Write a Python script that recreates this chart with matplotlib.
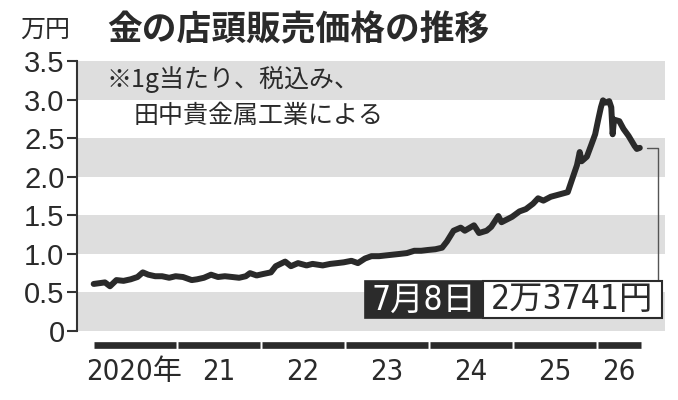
import numpy as np
import pandas as pd
import matplotlib
matplotlib.use("Agg")
import matplotlib.pyplot as plt
from matplotlib.patches import Rectangle
from matplotlib.transforms import blended_transform_factory

plt.rcParams['font.family'] = ['Noto Sans CJK JP', 'DejaVu Sans']
plt.rcParams['axes.unicode_minus'] = False

# データ（万円, 1gあたり税込み）
dates = [
    "2020-01-06", "2020-01-31", "2020-02-24", "2020-03-17", "2020-04-14", "2020-05-15",
    "2020-06-15", "2020-07-15", "2020-08-07", "2020-08-31", "2020-09-30", "2020-10-30",
    "2020-11-30", "2020-12-28", "2021-01-29", "2021-03-08", "2021-03-31", "2021-04-30",
    "2021-05-31", "2021-06-30", "2021-07-30", "2021-08-31", "2021-09-30", "2021-10-29",
    "2021-11-16", "2021-12-15", "2022-01-14", "2022-02-15", "2022-03-08", "2022-04-18",
    "2022-05-13", "2022-06-13", "2022-07-20", "2022-08-15", "2022-09-28", "2022-10-31",
    "2022-11-30", "2022-12-28", "2023-01-31", "2023-02-28", "2023-03-31", "2023-04-28",
    "2023-05-31", "2023-06-30", "2023-07-31", "2023-08-31", "2023-09-29", "2023-10-31",
    "2023-11-30", "2023-12-28", "2024-01-31", "2024-02-29", "2024-03-21", "2024-04-19",
    "2024-05-20", "2024-06-07", "2024-07-17", "2024-08-08", "2024-09-10", "2024-09-30",
    "2024-10-31", "2024-11-14", "2024-12-30", "2025-01-31", "2025-02-28", "2025-03-31",
    "2025-04-22", "2025-05-15", "2025-06-16", "2025-07-23", "2025-08-29", "2025-09-15",
    "2025-10-08", "2025-10-20", "2025-10-28", "2025-11-20", "2025-12-10", "2025-12-26",
    "2026-01-09", "2026-01-20", "2026-01-29", "2026-02-10", "2026-02-25", "2026-03-06",
    "2026-03-12", "2026-03-18", "2026-04-10", "2026-04-28", "2026-05-20", "2026-06-15",
    "2026-06-25", "2026-07-08",
]
prices = [
    0.61, 0.62, 0.63, 0.58, 0.66, 0.65,
    0.67, 0.70, 0.76, 0.73, 0.71, 0.71,
    0.69, 0.71, 0.70, 0.66, 0.67, 0.69,
    0.73, 0.70, 0.71, 0.70, 0.69, 0.71,
    0.75, 0.72, 0.74, 0.76, 0.84, 0.90,
    0.84, 0.88, 0.85, 0.87, 0.85, 0.87,
    0.88, 0.89, 0.91, 0.88, 0.94, 0.97,
    0.97, 0.98, 0.99, 1.00, 1.01, 1.04,
    1.04, 1.05, 1.06, 1.08, 1.16, 1.30,
    1.34, 1.30, 1.37, 1.27, 1.30, 1.35,
    1.49, 1.41, 1.48, 1.55, 1.58, 1.65,
    1.72, 1.69, 1.74, 1.77, 1.80, 1.95,
    2.15, 2.32, 2.20, 2.26, 2.42, 2.55,
    2.75, 2.90, 2.99, 2.96, 2.98, 2.90,
    2.55, 2.74, 2.72, 2.62, 2.53, 2.40,
    2.36, 2.3741,
]
years = [2020, 2021, 2022, 2023, 2024, 2025, 2026]
year_labels = ["2020年", "21", "22", "23", "24", "25", "26"]
yticks = [0, 0.5, 1.0, 1.5, 2.0, 2.5, 3.0, 3.5]
ytick_labels = ["0", "0.5", "1.0", "1.5", "2.0", "2.5", "3.0", "3.5"]
bands = [(0, 0.5), (1.0, 1.5), (2.0, 2.5), (3.0, 3.5)]
last_date_label = "7月8日"
last_price_label = "2万3741円"

W, H = 678, 400
narrow = ['DejaVu Sans', 'Noto Sans CJK JP']


def to_year(s):
    d = pd.Timestamp(s)
    start = pd.Timestamp(year=d.year, month=1, day=1)
    end = pd.Timestamp(year=d.year + 1, month=1, day=1)
    return d.year + (d - start) / (end - start)


def fx(px):
    return px / W


def fy(py):
    return 1 - py / H


x = np.array([to_year(s) for s in dates])
y = np.array(prices)

fig = plt.figure(figsize=(W / 100, H / 100), dpi=100)
ax = fig.add_axes([fx(77), fy(331), (665 - 77) / W, 270 / H])

for lo, hi in bands:
    ax.axhspan(lo, hi, color="#dedede", lw=0, zorder=0)

ax.plot(x, y, color="#2a2a2a", lw=4.3, solid_joinstyle="round",
        solid_capstyle="round", zorder=3)

ax.set_xlim(2019.815, 2026.815)
ax.set_ylim(0, 3.5)
ax.set_yticks(yticks)
ax.set_yticklabels(ytick_labels, family=['Liberation Sans', 'DejaVu Sans'], fontsize=21)
ax.set_xticks([])
for s in ["top", "right", "bottom"]:
    ax.spines[s].set_visible(False)
ax.spines["left"].set_linewidth(1.5)
ax.spines["left"].set_color("#333333")
ax.tick_params(axis="y", length=7, width=1.5, color="#333333", pad=2,
               labelcolor="#2a2a2a")

# 年の帯
trans = blended_transform_factory(ax.transData, ax.transAxes)
end_year = x[-1]
for yr, lab in zip(years, year_labels):
    x0 = yr + 0.012
    x1 = min(yr + 0.988, end_year + 0.01)
    ax.plot([x0, x1], [-0.052, -0.052], color="#2a2a2a", lw=4.8,
            solid_capstyle="butt", transform=trans, clip_on=False)
    ax.text((x0 + x1) / 2, -0.15, lab, transform=trans, ha="center", va="center",
            fontsize=21, family=narrow, stretch="condensed", color="#2a2a2a")

# タイトルなど
fig.text(fx(20), fy(30), "万円", fontsize=18, ha="left", va="center", color="#2a2a2a")
fig.text(fx(107), fy(30), "金の店頭販売価格の推移", fontsize=25, fontweight="bold",
         ha="left", va="center", color="#2a2a2a")
fig.text(fx(106), fy(79), "※1g当たり、税込み、", fontsize=18, ha="left", va="center",
         color="#2a2a2a")
fig.text(fx(134), fy(116), "田中貴金属工業による", fontsize=18, ha="left", va="center",
         color="#2a2a2a")

# 最新値の囲み
fig.add_artist(Rectangle((fx(365), fy(318)), (483 - 365) / W, 37 / H,
                         transform=fig.transFigure, facecolor="#2b2b2b",
                         edgecolor="#2b2b2b", lw=1.2))
fig.add_artist(Rectangle((fx(483), fy(318)), (662 - 483) / W, 37 / H,
                         transform=fig.transFigure, facecolor="white",
                         edgecolor="#2b2b2b", lw=1.5))
fig.text(fx(424), fy(300), last_date_label, fontsize=24, family=narrow,
         stretch="condensed", color="white", ha="center", va="center")
fig.text(fx(572), fy(300), last_price_label, fontsize=24, family=narrow,
         stretch="condensed", color="#2a2a2a", ha="center", va="center")

ax.annotate("", xy=(x[-1], y[-1]), xycoords="data",
            xytext=(fx(658), fy(281)), textcoords="figure fraction",
            arrowprops=dict(arrowstyle="-", color="#555555", lw=1.0,
                            connectionstyle="angle,angleA=90,angleB=0,rad=0",
                            shrinkA=0, shrinkB=5))

fig.savefig("out.png", dpi=100)
